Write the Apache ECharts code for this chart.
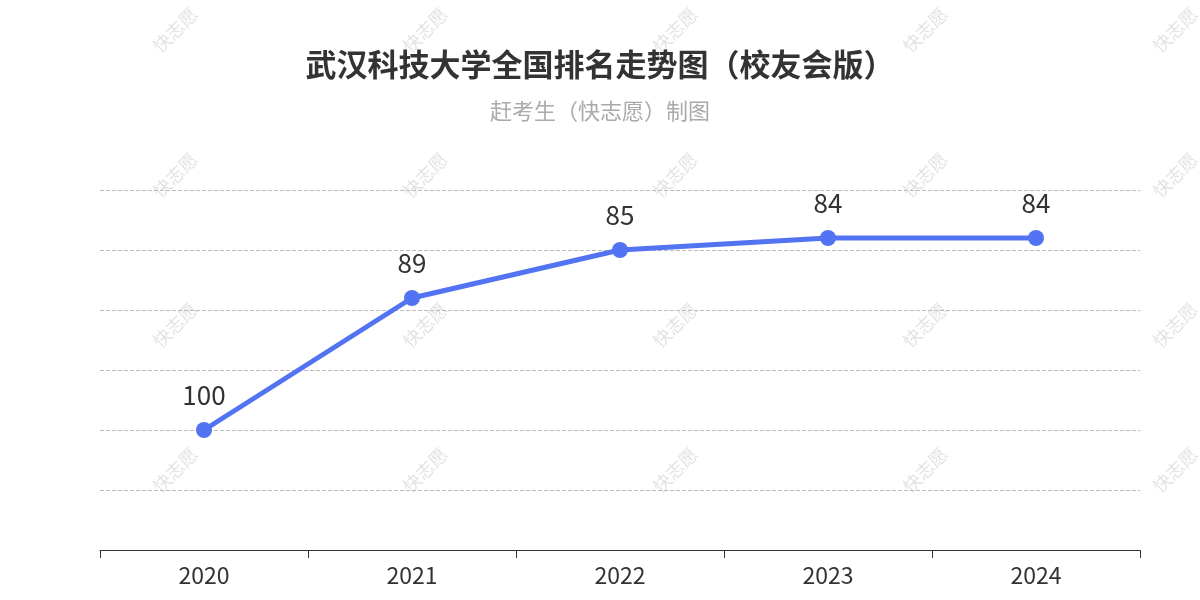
<!DOCTYPE html>
<html lang="zh-CN">
<head>
<meta charset="UTF-8">
<script src="https://cdn.jsdelivr.net/npm/echarts@6/dist/echarts.min.js"></script>
<style>html,body{margin:0;padding:0;}#chart{width:1200px;height:600px;}</style>
</head>
<body>
<div id="chart"></div>
<script>
// 数据
const years = ['2020', '2021', '2022', '2023', '2024'];
const ranks = [100, 89, 85, 84, 84];

const chart = echarts.init(document.getElementById('chart'));

// 水印
const marks = [];
[30, 175, 325, 470].forEach(y => {
    [175, 425, 675, 925, 1175].forEach(x => {
        marks.push({
            type: 'text', x: x, y: y, rotation: Math.PI / 4, z: -1,
            style: { text: '快志愿', fill: 'rgba(0,0,0,0.12)', font: '18px "Noto Sans CJK SC"', align: 'center', verticalAlign: 'middle' }
        });
    });
});

chart.setOption({
    textStyle: { fontFamily: '"Noto Sans CJK SC", sans-serif' },
    title: {
        text: '武汉科技大学全国排名走势图（校友会版）',
        subtext: '赶考生（快志愿）制图',
        left: 'center', top: 44, itemGap: 20,
        textStyle: { fontSize: 31, fontWeight: 'bold', color: '#333' },
        subtextStyle: { fontSize: 22, color: '#aaa' }
    },
    graphic: marks,
    grid: { left: 100, right: 60, top: 190, bottom: 50 },
    xAxis: {
        type: 'category', data: years, boundaryGap: true,
        axisLine: { lineStyle: { color: '#333' } },
        axisTick: { show: true, length: 8, lineStyle: { color: '#333' } },
        axisLabel: { fontSize: 23, color: '#333', margin: 14 }
    },
    yAxis: {
        type: 'value', inverse: true, min: 80, max: 110, interval: 5,
        axisLabel: { show: false },
        axisLine: { show: false }, axisTick: { show: false },
        splitLine: { lineStyle: { type: 'dashed', color: '#bbb' } }
    },
    series: [{
        type: 'line', data: ranks,
        symbol: 'circle', symbolSize: 16,
        lineStyle: { width: 5, color: '#5273f2' },
        itemStyle: { color: '#5273f2' },
        label: { show: true, position: 'top', distance: 14, fontSize: 26, color: '#333' }
    }]
});
</script>
</body>
</html>
